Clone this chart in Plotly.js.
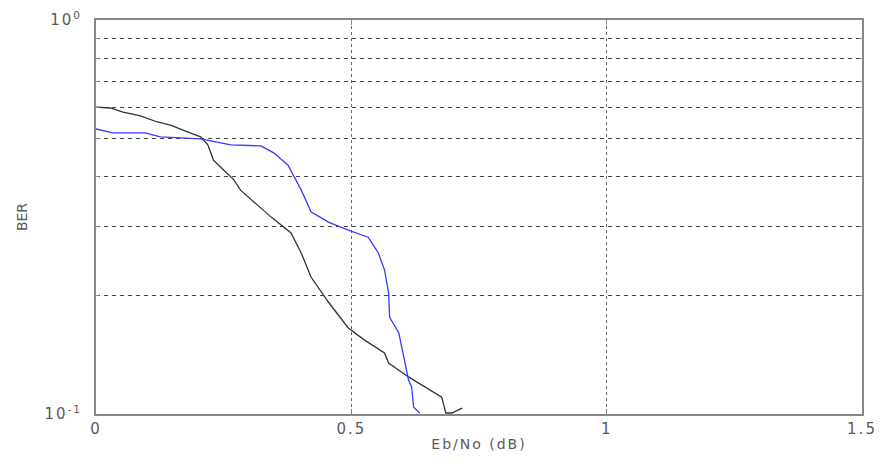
<!DOCTYPE html>
<html>
<head>
<meta charset="utf-8">
<script src="https://cdn.plot.ly/plotly-3.0.1.min.js"></script>
<style>
html,body{margin:0;padding:0;background:#fff;}
#chart{width:881px;height:464px;}
#chart .xtick text, #chart .ytick text, #chart .g-xtitle text{letter-spacing:2px;}
</style>
</head>
<body>
<div id="chart"></div>
<script>
// Black curve
const blackX = [0, 0.028, 0.053, 0.087, 0.12, 0.146, 0.179, 0.205, 0.219, 0.230, 0.25, 0.27, 0.283, 0.309, 0.343, 0.382, 0.402, 0.421, 0.455, 0.494, 0.526, 0.565, 0.573, 0.612, 0.644, 0.677, 0.685, 0.697, 0.717];
const blackY = [0.601, 0.598, 0.584, 0.571, 0.551, 0.541, 0.520, 0.505, 0.482, 0.441, 0.416, 0.393, 0.370, 0.345, 0.316, 0.288, 0.256, 0.2227, 0.1924, 0.1653, 0.154, 0.1429, 0.1347, 0.1242, 0.1171, 0.1104, 0.1006, 0.1006, 0.1035];
// Blue curve
const blueX = [0, 0.033, 0.096, 0.126, 0.205, 0.264, 0.323, 0.348, 0.376, 0.388, 0.402, 0.421, 0.455, 0.494, 0.533, 0.553, 0.565, 0.573, 0.575, 0.593, 0.604, 0.612, 0.618, 0.622, 0.634];
const blueY = [0.529, 0.517, 0.517, 0.505, 0.499, 0.482, 0.479, 0.460, 0.428, 0.400, 0.370, 0.326, 0.307, 0.293, 0.281, 0.256, 0.232, 0.203, 0.176, 0.1605, 0.1371, 0.122, 0.1171, 0.1041, 0.1006];
// Ticks
const xTicks = [0, 0.5, 1, 1.5];
const xTickText = ['0', '0.5', '1', '1.5'];
const yTicks = [0.1, 1];
const yTickText = ['10<sup>-1</sup>', '10<sup>0</sup>'];
const yMinor = [0.2, 0.3, 0.4, 0.5, 0.6, 0.7, 0.8, 0.9];

const traces = [
  {x: blackX, y: blackY, type: 'scatter', mode: 'lines', line: {color: '#333333', width: 1.3}, showlegend: false},
  {x: blueX, y: blueY, type: 'scatter', mode: 'lines', line: {color: '#3a3aff', width: 1.3}, showlegend: false}
];

const fontCol = '#5a5a5a';
const fam = 'DejaVu Sans, Liberation Sans, Arial, sans-serif';
const layout = {
  width: 881, height: 464,
  margin: {l: 96, r: 19, t: 20, b: 50},
  paper_bgcolor: '#ffffff', plot_bgcolor: '#ffffff',
  font: {family: fam, size: 14, color: fontCol},
  xaxis: {
    range: [0, 1.5], tickmode: 'array', tickvals: xTicks, ticktext: xTickText,
    tickfont: {family: fam, size: 15, color: fontCol},
    showgrid: true, gridcolor: '#666666', gridwidth: 1, griddash: 'dot',
    zeroline: false, showline: true, linecolor: '#888888', linewidth: 2, mirror: 'ticks',
    ticks: 'inside', ticklen: 5, tickcolor: '#888888',
    title: {text: 'Eb/No (dB)', font: {family: fam, size: 14, color: fontCol}, standoff: 2}
  },
  yaxis: {
    type: 'log', range: [-1, 0], tickmode: 'array', tickvals: yTicks, ticktext: yTickText,
    tickfont: {family: fam, size: 15, color: fontCol}, ticklabelstandoff: 9,
    showgrid: false, zeroline: false, showline: true, linecolor: '#888888', linewidth: 2, mirror: 'ticks',
    ticks: 'inside', ticklen: 5, tickcolor: '#888888',
    minor: {tickmode: 'array', tickvals: yMinor, showgrid: true, gridcolor: '#444444', gridwidth: 1, griddash: '4px,4px', ticks: 'inside', ticklen: 3, tickcolor: '#888888'},
    title: {text: 'BER', font: {family: fam, size: 14, color: fontCol}, standoff: 22}
  }
};

Plotly.newPlot('chart', traces, layout, {staticPlot: true, displayModeBar: false});
</script>
</body>
</html>
